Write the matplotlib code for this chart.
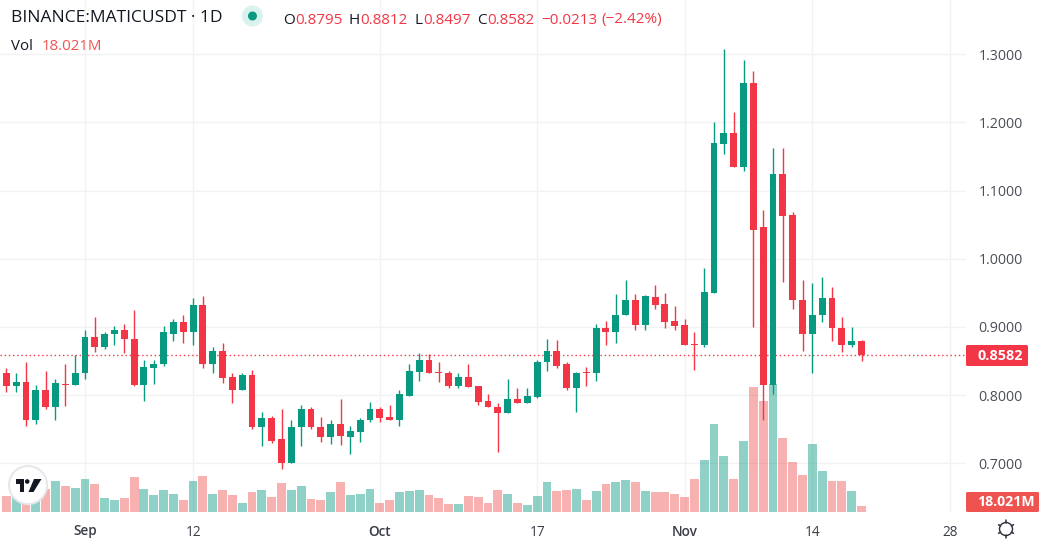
import numpy as np
import matplotlib
matplotlib.use("Agg")
import matplotlib.pyplot as plt
from matplotlib.patches import Circle, Polygon, FancyBboxPatch, Rectangle

plt.rcParams['font.family'] = ['Open Sans', 'DejaVu Sans']

opens = [.833,.813,.820,.764,.807,.782,.8165,.815,.832,.886,.871,.889,.896,.883,.815,.840,.845,.890,.907,.893,
         .932,.846,.865,.826,.807,.829,.753,.767,.735,.700,.753,.779,.754,.739,.757,.739,.746,.763,.779,.768,
         .763,.799,.834,.852,.834,.833,.814,.827,.814,.792,.783,.774,.795,.789,.798,.848,.865,.845,.810,.8328,
         .832,.899,.893,.917,.939,.903,.944,.934,.909,.903,.8755,.873,.950,1.169,1.185,1.134,1.258,1.046,.815,1.125,
         1.065,.940,.889,.917,.943,.899,.874,.8795]
highs = [.840,.833,.848,.815,.835,.823,.845,.859,.896,.915,.892,.901,.905,.925,.852,.851,.902,.912,.918,.942,
         .945,.870,.877,.833,.832,.837,.776,.770,.779,.764,.786,.783,.768,.763,.795,.755,.766,.790,.782,.785,
         .808,.845,.862,.861,.849,.836,.832,.845,.814,.802,.789,.824,.811,.811,.851,.883,.881,.849,.834,.842,
         .905,.909,.949,.969,.949,.947,.961,.950,.931,.911,.893,.986,1.200,1.308,1.216,1.292,1.276,1.072,1.163,1.162,
         1.069,.969,.964,.974,.958,.914,.900,.8812]
lows = [.804,.805,.755,.757,.779,.763,.784,.815,.824,.864,.867,.873,.862,.813,.792,.817,.843,.879,.877,.873,
        .840,.832,.818,.789,.807,.751,.726,.730,.691,.700,.725,.751,.732,.728,.727,.713,.732,.761,.760,.763,
        .755,.799,.821,.832,.820,.810,.810,.812,.786,.783,.717,.774,.788,.789,.796,.836,.840,.807,.776,.814,
        .821,.873,.876,.917,.895,.895,.927,.899,.895,.873,.837,.870,.950,1.154,1.134,1.129,.900,.764,.801,.966,
        .927,.865,.833,.908,.880,.864,.870,.8497]
closes = [.813,.820,.764,.807,.782,.818,.8155,.833,.886,.871,.890,.896,.882,.815,.842,.846,.892,.907,.893,.932,
          .846,.865,.825,.807,.829,.753,.767,.733,.701,.754,.779,.753,.739,.757,.740,.748,.764,.779,.767,.763,
          .801,.836,.852,.833,.832,.814,.827,.812,.790,.783,.774,.795,.789,.799,.849,.865,.843,.810,.833,.8322,
          .899,.893,.918,.939,.903,.946,.933,.908,.902,.874,.873,.952,1.170,1.185,1.134,1.258,1.043,.815,1.125,1.063,
          .939,.889,.918,.943,.898,.874,.880,.8582]
volumes_m = [48,45,34,45,69,93,78,72,99,85,42,35,42,105,69,51,66,54,35,93,
             109,54,66,51,27,60,66,45,87,66,78,39,35,60,90,51,54,69,27,36,
             60,63,66,51,42,24,24,48,45,27,66,54,27,21,48,90,63,66,69,36,
             63,84,90,96,90,63,60,60,54,45,99,156,264,168,99,213,375,333,384,222,
             150,111,204,123,93,93,63,18.021]

price_ticks = [0.7, 0.8, 0.9, 1.0, 1.1, 1.2, 1.3]
time_tick_idx = [8, 19, 38, 54, 69, 82, 96]
time_tick_labels = ['Sep', '12', 'Oct', '17', 'Nov', '14', '28']
bold_labels = ['Sep', 'Oct', 'Nov']
last_price = 0.8582

GREEN = '#089981'
RED = '#f23645'
VOL_RED = '#ef5350'
GRID = '#f1f2f4'
DARK = '#131722'
W, H = 1045, 545
PANE_R, PANE_B = 966, 512

fig = plt.figure(figsize=(W / 100, H / 100), dpi=100, facecolor='white')
rect = [0, (H - PANE_B) / H, PANE_R / W, PANE_B / H]
XLIM = (-0.641, 97.63)
YLIM = (0.6286, 1.3797)

base = fig.add_axes(rect, zorder=1)
base.set_xlim(*XLIM); base.set_ylim(*YLIM)
for s in base.spines.values():
    s.set_visible(False)
base.yaxis.tick_right()
base.set_yticks(price_ticks)
base.set_yticklabels([f'{p:.4f}' for p in price_ticks], fontsize=10.2, color='#4a4d57')
base.set_xticks(time_tick_idx)
base.set_xticklabels(time_tick_labels, fontsize=9.8, color='#3a3d47')
for lab in base.get_xticklabels():
    if lab.get_text() in bold_labels:
        lab.set_fontweight('semibold')
base.tick_params(axis='both', length=0)
base.tick_params(axis='y', pad=9)
base.tick_params(axis='x', pad=9)
base.grid(True, color=GRID, linewidth=1.0)
base.set_axisbelow(True)

x = np.arange(len(opens))
o, h, l, c = map(np.array, (opens, highs, lows, closes))
up = c >= o

vol_ax = fig.add_axes(rect, zorder=2, facecolor='none')
vol_ax.set_xlim(*XLIM); vol_ax.set_ylim(0, 1536)
vol_ax.axis('off')
vol_ax.bar(x, volumes_m, width=0.9,
           color=[GREEN if u else VOL_RED for u in up], alpha=0.45, linewidth=0)

ax = fig.add_axes(rect, zorder=3, facecolor='none')
ax.set_xlim(*XLIM); ax.set_ylim(*YLIM)
ax.axis('off')
ax.axhline(last_price, color=RED, linewidth=1, linestyle=(0, (1, 2)), zorder=1)
ax.vlines(x, l, h, colors=[GREEN if u else RED for u in up], linewidth=1.0, zorder=2)
ax.bar(x, np.maximum(np.abs(c - o), 0.0012), bottom=np.minimum(o, c), width=0.7,
       color=[GREEN if u else RED for u in up], linewidth=0, zorder=3)

ov = fig.add_axes([0, 0, 1, 1], zorder=4, facecolor='none')
ov.set_xlim(0, W); ov.set_ylim(H, 0)
ov.axis('off')

ov.text(11, 18, 'BINANCE:MATICUSDT · 1D', fontsize=12.5, color=DARK, va='center')
ov.add_patch(Circle((252.5, 16), 10.5, color='#daf2ee', lw=0))
ov.add_patch(Circle((252.5, 16), 4.5, color=GREEN, lw=0))

legend_items = [(283, 'O', DARK), (295, '0.8795', RED), (349, 'H', DARK), (360, '0.8812', RED),
                (414, 'L', DARK), (423, '0.8497', RED), (477, 'C', DARK), (487, '0.8582', RED),
                (541, '\u22120.0213', RED), (601, '(\u22122.42%)', RED)]
for px, t, col in legend_items:
    ov.text(px, 20, t, fontsize=11, color=col, va='center')
ov.text(11, 47, 'Vol', fontsize=10.8, color=DARK, va='center')
ov.text(42, 47, '18.021M', fontsize=10.8, color=VOL_RED, va='center')

ov.add_patch(FancyBboxPatch((966, 345), 62, 21, boxstyle='round,pad=0,rounding_size=1.5',
                            facecolor=RED, edgecolor='none'))
ov.text(1000, 355.5, '0.8582', fontsize=10.4, color='white', fontweight='bold', ha='center', va='center')
ov.add_patch(FancyBboxPatch((966, 492), 73, 20, boxstyle='round,pad=0,rounding_size=1.5',
                            facecolor=VOL_RED, edgecolor='none'))
ov.text(1005.5, 502.5, '18.021M', fontsize=10.2, color='white', fontweight='bold', ha='center', va='center')

# TradingView badge
ov.add_patch(Circle((28, 485), 19, facecolor='white', edgecolor='#e6e8ec', lw=1.5))
ov.add_patch(Rectangle((15.7, 479), 8.3, 4.6, color=DARK, lw=0))
ov.add_patch(Rectangle((19.8, 479), 4.2, 13, color=DARK, lw=0))
ov.add_patch(Circle((27.2, 481.5), 2.3, color=DARK, lw=0))
ov.add_patch(Polygon([(34, 479), (41.5, 479), (33.5, 492), (28.5, 492)], closed=True, color=DARK, lw=0))

# settings gear
ov.add_patch(Circle((1006, 529), 6.5, facecolor='none', edgecolor='#2a2e39', lw=1.0))
for a in np.deg2rad(np.arange(0, 360, 60) + 30):
    ov.plot([1006 + 6.2 * np.cos(a), 1006 + 8.6 * np.cos(a)],
            [529 + 6.2 * np.sin(a), 529 + 8.6 * np.sin(a)], color='#2a2e39', lw=1.1, solid_capstyle='round')

fig.savefig('out.png', dpi=100, facecolor='white')
